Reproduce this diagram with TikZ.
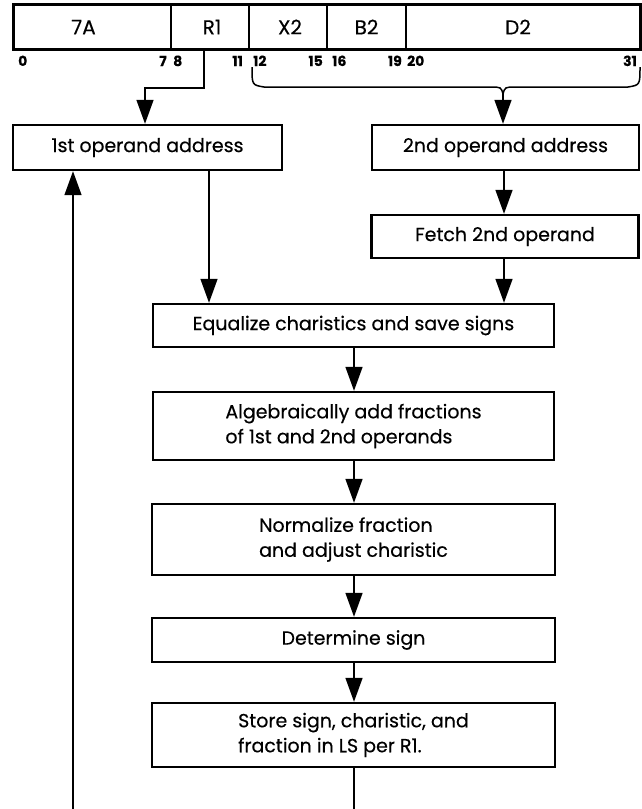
\documentclass[tikz,border=0pt]{standalone}
\usepackage{fontspec}
\setmainfont{Poppins}[FakeBold=0.4]
\usetikzlibrary{arrows.meta}
\begin{document}
\begin{tikzpicture}[x=1pt,y=-1pt,
  stepbox/.style={draw,line width=2.4pt,inner sep=0pt,align=left,
    font=\fontsize{19}{25}\selectfont},
  field/.style={draw,line width=1.5pt,minimum height=44pt,inner sep=0pt},
  fieldtext/.style={font=\fontsize{20}{22}\selectfont,inner sep=0pt},
  bitno/.style={font=\fontsize{14}{15}\selectfont\bfseries,inner sep=0pt},
  wire/.style={line width=1.5pt},
  conn/.style={wire,-{Triangle[length=24pt,width=17pt]}}]
\useasboundingbox (0,0) rectangle (642,809);

% instruction format fields
\node[field,minimum width=157pt] (f7a) at (92.5,27) {};
\node[field,minimum width=78pt]  (fr1) at (210,27) {};
\node[field,minimum width=78pt]  (fx2) at (288,27) {};
\node[field,minimum width=79pt]  (fb2) at (366.5,27) {};
\node[field,minimum width=234pt] (fd2) at (523,27) {};
\draw[line width=2.4pt] (f7a.north west) rectangle (fd2.south east);
\node[fieldtext] (t7a) at ([xshift=-9pt]f7a.center) {7A};
\node[fieldtext] (tr1) at ([xshift=2pt]fr1.center) {R1};
\node[fieldtext] (tx2) at ([xshift=2pt]fx2.center) {X2};
\node[fieldtext] (tb2) at (fb2.center) {B2};
\node[fieldtext] (td2) at ([xshift=-5pt]fd2.center) {D2};

% bit positions
\node[bitno,anchor=base west] (b0)  at (18,66)  {0};
\node[bitno,anchor=base east] (b7)  at (167,66) {7};
\node[bitno,anchor=base west] (b8)  at (173,66) {8};
\node[bitno,anchor=base east] (b11) at (243,66) {11};
\node[bitno,anchor=base west] (b12) at (253,66) {12};
\node[bitno,anchor=base east] (b15) at (323,66) {15};
\node[bitno,anchor=base west] (b16) at (332,66) {16};
\node[bitno,anchor=base east] (b19) at (402,66) {19};
\node[bitno,anchor=base west] (b20) at (407,66) {20};
\node[bitno,anchor=base east] (b31) at (637,66) {31};

% flow steps
\node[stepbox,minimum width=269pt,minimum height=45pt] (first)  at (147.5,147.5) {1st operand address};
\node[stepbox,minimum width=267pt,minimum height=45pt] (second) at (505.5,147.5) {2nd operand address};
\node[stepbox,minimum width=267pt,minimum height=43pt] (fetch)  at (505,236.5) {Fetch 2nd operand};
\node[stepbox,minimum width=401pt,minimum height=43pt] (equal)  at (353.5,325.5) {Equalize charistics and save signs};
\node[stepbox,minimum width=401pt,minimum height=68pt] (alg)    at (353.5,426) {Algebraically add fractions\\of 1st and 2nd operands};
\node[stepbox,minimum width=403pt,minimum height=71pt] (norm)   at (353.5,539.5) {Normalize fraction\\and adjust charistic};
\node[stepbox,minimum width=403pt,minimum height=44pt] (det)    at (353.5,640) {Determine sign};
\node[stepbox,minimum width=403pt,minimum height=64pt] (store)  at (353.5,735) {Store sign, charistic, and\\fraction in LS per R1.};

% connector columns and loose ends
\coordinate (colA) at (73,0);
\coordinate (colB) at (209,0);
\coordinate (colC) at (504,0);
\coordinate (colM) at (354,0);
\coordinate (loopin) at (73,809);
\coordinate (loopout) at (354,809);
\coordinate (bracetip) at (503,94);

% R1 feeds the first operand address
\draw[conn] ([xshift=-6pt]fr1.south) -- ++(0,38) -| ([xshift=-2.5pt]first.north);

% brace over X2, B2, D2
\draw[wire] (252,67)
  .. controls (252,85) .. (264,87) -- (490,87)
  .. controls (501,87) .. (bracetip)
  .. controls (505,87) .. (516,87) -- (628,87)
  .. controls (640,85) .. (640,67);
\draw[conn] (bracetip) -- (second.north -| bracetip);

\draw[conn] (second.south -| colC) -- (fetch.north -| colC);
\draw[conn] (fetch.south -| colC) -- (equal.north -| colC);
\draw[conn] (first.south -| colB) -- (equal.north -| colB);
\draw[conn] (equal.south -| colM) -- (alg.north -| colM);
\draw[conn] (alg.south -| colM) -- (norm.north -| colM);
\draw[conn] (norm.south -| colM) -- (det.north -| colM);
\draw[conn] (det.south -| colM) -- (store.north -| colM);
\draw[wire] (store.south -| colM) -- (loopout);
\draw[conn] (loopin) -- (first.south -| colA);
\end{tikzpicture}
\end{document}
